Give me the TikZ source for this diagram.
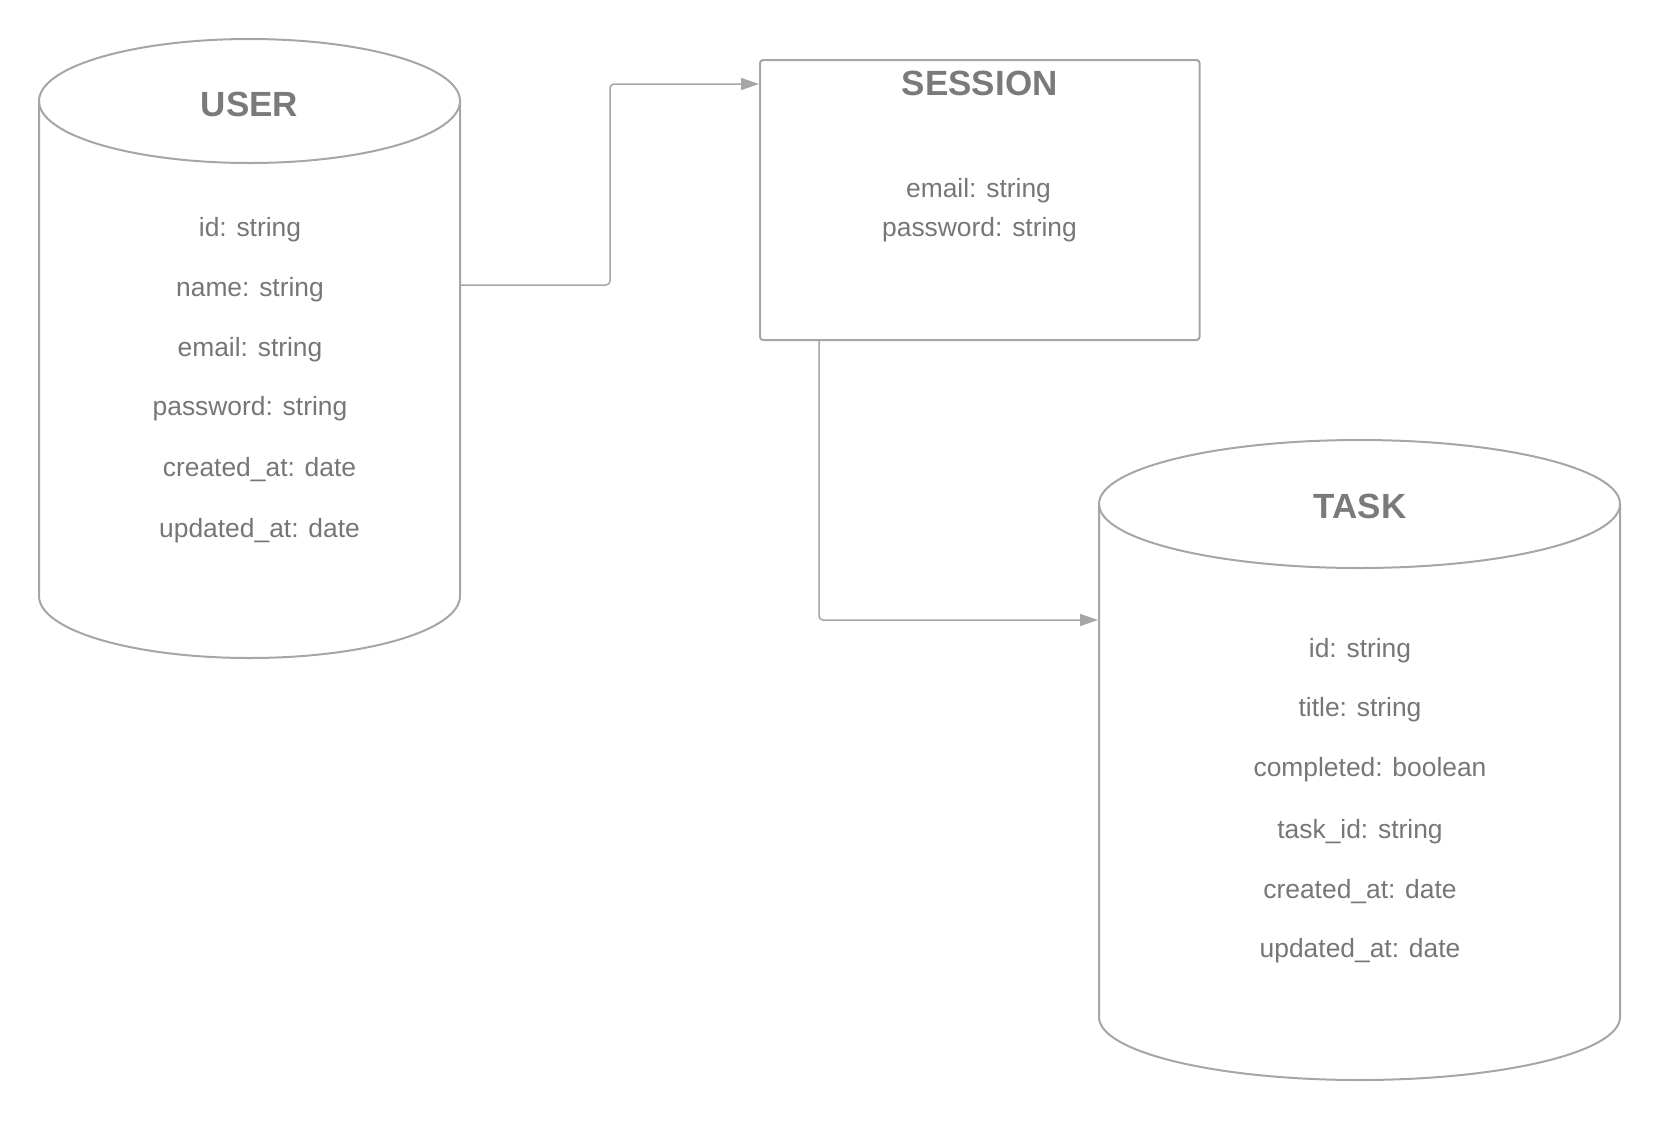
\documentclass[tikz,border=0pt]{standalone}
\usepackage{fontspec}
\setmainfont{Liberation Sans}
\usepackage{xcolor}
\usetikzlibrary{arrows.meta, positioning}
\definecolor{linegray}{RGB}{166,166,166}
\definecolor{textgray}{RGB}{118,118,118}
\definecolor{titlegray}{RGB}{122,122,122}

\begin{document}
\begin{tikzpicture}[x=1pt, y=-1pt,
  outline/.style={draw=linegray, line width=2pt},
  link/.style={draw=linegray, line width=1.5pt, rounded corners=4pt, -{Triangle[length=18pt, width=12pt]}},
  title/.style={text=titlegray, font=\fontsize{35}{40}\selectfont\bfseries, anchor=base},
  field/.style={text=textgray, font=\fontsize{26.4}{30}\selectfont, anchor=base}]
  \useasboundingbox (0,0) rectangle (1660,1120);

  % user table
  \draw[outline] (39,101) -- (39,596) arc[start angle=180, end angle=360, x radius=210.5pt, y radius=62pt] -- (460,101);
  \draw[outline] (249.5,101) ellipse[x radius=210.5pt, y radius=62pt];
  \node[title] (user) at (249.5,116) {USER};
  \node[field] (user-id) at (250,236) {id: string};
  \node[field] (user-name) at (250,296) {name: string};
  \node[field] (user-email) at (250,356) {email: string};
  \node[field] (user-password) at (250,415) {password: string};
  \node[field] (user-created) at (259.5,476.5) {created\_at: date};
  \node[field] (user-updated) at (259.5,537) {updated\_at: date};
  \coordinate (user-out) at (460,285);

  % session box
  \node[draw=linegray, line width=2pt, rounded corners=3pt, minimum width=439.5pt, minimum height=280pt] (session) at (979.75,200) {};
  \node[title] (session-title) at (979.75,95.5) {SESSION};
  \node[field] (session-email) at (978.5,197.5) {email: string};
  \node[field] (session-password) at (979.5,236) {password: string};

  % task table
  \draw[outline] (1099,504) -- (1099,1017) arc[start angle=180, end angle=360, x radius=260.5pt, y radius=63pt] -- (1620,504);
  \draw[outline] (1359.5,504) ellipse[x radius=260.5pt, y radius=64pt];
  \node[title] (task) at (1360,518) {TASK};
  \node[field] (task-id) at (1360,657.5) {id: string};
  \node[field] (task-title) at (1360,716) {title: string};
  \node[field] (task-completed) at (1370,776.5) {completed: boolean};
  \node[field] (task-taskid) at (1360,838) {task\_id: string};
  \node[field] (task-created) at (1360,898) {created\_at: date};
  \node[field] (task-updated) at (1360,957.5) {updated\_at: date};
  \coordinate (task-in) at (1098,620);

  % connectors
  \draw[link] (user-out) -- ++(150,0) |- ([yshift=-25pt]session.north west);
  \draw[link] ([xshift=60pt]session.south west) |- (task-in);
\end{tikzpicture}
\end{document}
